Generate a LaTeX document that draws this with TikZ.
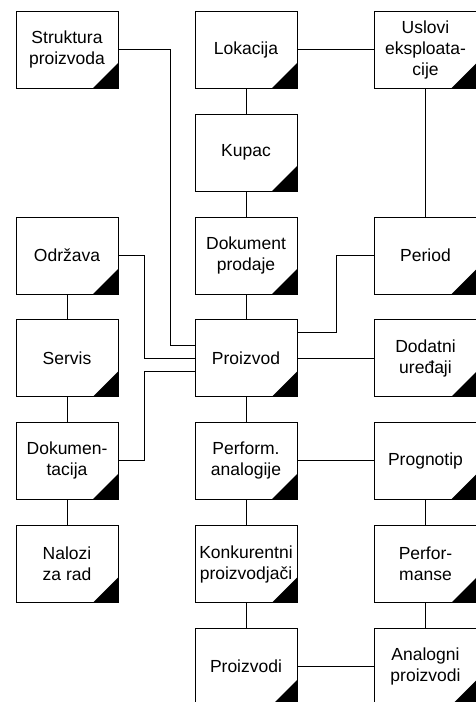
\documentclass[tikz,border=0pt]{standalone}
\usepackage{fontspec}
\setmainfont{Liberation Sans}
\begin{document}
\begin{tikzpicture}[x=1pt,y=-1pt,
  ent/.style={draw=black, line width=1pt, fill=white, minimum width=102pt,
    minimum height=77pt, inner sep=0pt, align=center,
    font=\fontsize{17.5pt}{21pt}\selectfont,
    path picture={\fill[black] (path picture bounding box.south east)
      -- ++(-25pt,0) -- ++(25pt,25pt) -- cycle;}},
  link/.style={line width=0.9pt, draw=black}]
\useasboundingbox (0,0) rectangle (476,702);
\clip (0,0) rectangle (476,702);
\fill[white] (0,0) rectangle (476,702);

% left column
\node[ent] (struk) at (67,49.5) {Struktura\\proizvoda};
\node[ent] (odr) at (67,255.5) {Održava};
\node[ent] (serv) at (67,358) {Servis};
\node[ent] (dokum) at (67,460.5) {Dokumen-\\tacija};
\node[ent] (nal) at (67,564) {Nalozi\\za rad};

% middle column
\node[ent] (lok) at (246,49.5) {Lokacija};
\node[ent] (kup) at (246,152.5) {Kupac};
\node[ent] (dokp) at (246,255.5) {Dokument\\prodaje};
\node[ent] (proiz) at (246,358) {Proizvod};
\node[ent] (perfa) at (246,460.5) {Perform.\\analogije};
\node[ent] (konk) at (246,564) {Konkurentni\\proizvodjači};
\node[ent] (proizv) at (246,666.5) {Proizvodi};

% right column
\node[ent] (usl) at (425.5,49.5) {Uslovi\\eksploata-\\cije};
\node[ent] (per) at (425.5,255.5) {Period};
\node[ent] (dod) at (425.5,358) {Dodatni\\uređaji};
\node[ent] (prog) at (425.5,460.5) {Prognotip};
\node[ent] (perf) at (425.5,564) {Perfor-\\manse};
\node[ent] (anal) at (425.5,666.5) {Analogni\\proizvodi};

% vertical chains
\draw[link] (odr) -- (serv);
\draw[link] (serv) -- (dokum);
\draw[link] (dokum) -- (nal);
\draw[link] (lok) -- (kup);
\draw[link] (kup) -- (dokp);
\draw[link] (dokp) -- (proiz);
\draw[link] (proiz) -- (perfa);
\draw[link] (perfa) -- (konk);
\draw[link] (konk) -- (proizv);
\draw[link] (usl.south -| 425,0) -- (per.north -| 425,0);
\draw[link] (prog.south -| 425,0) -- (perf.north -| 425,0);
\draw[link] (perf.south -| 425,0) -- (anal.north -| 425,0);

% horizontal links
\draw[link] (lok.east) -- (usl.west |- lok.east);
\draw[link] (proiz.east) -- (dod.west |- proiz.east);
\draw[link] (perfa.east) -- (prog.west |- perfa.east);
\draw[link] (proizv.east) -- (anal.west |- proizv.east);

% elbow links into Proizvod
\draw[link] (struk.east) -- ++(52,0) |- ([yshift=12.3pt]proiz.west);
\draw[link] (odr.east) -- ++(26,0) |- (proiz.west);
\draw[link] (dokum.east) -- ++(26,0) |- ([yshift=-13pt]proiz.west);
\draw[link] (per.west) -- ++(-38,0) |- ([yshift=26pt]proiz.east);
\end{tikzpicture}
\end{document}
